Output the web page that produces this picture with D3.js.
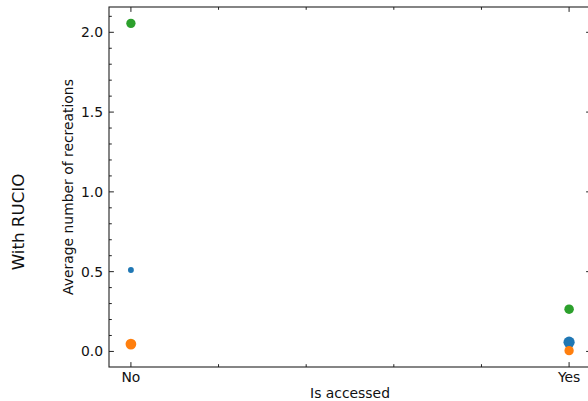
<!DOCTYPE html>
<html>
<head>
<meta charset="utf-8">
<script src="https://cdn.jsdelivr.net/npm/d3@7"></script>
<style>
  html, body { margin: 0; padding: 0; background: #fff; }
  svg { display: block; font-family: "DejaVu Sans", sans-serif; }
</style>
</head>
<body>
<svg id="chart" width="588" height="401"></svg>
<script>
// Access categories on the x axis
const categories = ["No", "Yes"];
// Average number of recreations per series, one value per category
const seriesBlue   = [0.51, 0.058];
const seriesOrange = [0.046, 0.005];
const seriesGreen  = [2.056, 0.265];
// Relative weight of each point (drives marker area)
const weightsBlue   = [18, 65];
const weightsOrange = [60, 45];
const weightsGreen  = [45, 47];
// Axis labels
const yTicks = [0.0, 0.5, 1.0, 1.5, 2.0];
const xLabel = "Is accessed";
const yLabel = "Average number of recreations";
const rowLabel = "With RUCIO";

const series = [
  { values: seriesBlue,   weights: weightsBlue,   color: "#1f77b4" },
  { values: seriesOrange, weights: weightsOrange, color: "#ff7f0e" },
  { values: seriesGreen,  weights: weightsGreen,  color: "#2ca02c" }
];

const svg = d3.select("#chart");
const plot = { left: 109, top: 7, right: 591, bottom: 367 };

// Numeric x positions for categories, padded 5% on each side
const xIdx = categories.map((_, i) => i);
const xPad = 0.05 * (d3.max(xIdx) - d3.min(xIdx));
const x = d3.scaleLinear()
  .domain([d3.min(xIdx) - xPad, d3.max(xIdx) + xPad])
  .range([plot.left, plot.right]);

const allVals = series.flatMap(s => s.values);
const yMin = d3.min(allVals), yMax = d3.max(allVals);
const yPad = 0.05 * (yMax - yMin);
const y = d3.scaleLinear()
  .domain([yMin - yPad, yMax + yPad])
  .range([plot.bottom, plot.top]);

const r = d3.scaleSqrt().domain([0, 100]).range([0, 6.94]);

const clip = svg.append("clipPath").attr("id", "plotclip")
  .append("rect")
  .attr("x", plot.left).attr("y", plot.top)
  .attr("width", plot.right - plot.left).attr("height", plot.bottom - plot.top);

// Points
const pts = svg.append("g").attr("clip-path", "url(#plotclip)");
series.forEach(s => {
  pts.selectAll(null)
    .data(s.values.map((v, i) => ({ v, i, w: s.weights[i] })))
    .join("circle")
    .attr("cx", d => x(d.i))
    .attr("cy", d => y(d.v))
    .attr("r", d => r(d.w))
    .attr("fill", s.color);
});

const tickColor = "#222";
const majorLen = 4.9, minorLen = 2.8;

// Y axis ticks (inward) on left and right
const yMinor = d3.range(0, 2.2, 0.1).map(v => +v.toFixed(2)).filter(v => v >= y.domain()[0] && v <= y.domain()[1]);
const axes = svg.append("g").attr("stroke", tickColor).attr("stroke-width", 1);
yMinor.forEach(v => {
  const isMajor = yTicks.some(t => Math.abs(t - v) < 1e-9);
  const len = isMajor ? majorLen : minorLen;
  axes.append("line").attr("x1", plot.left).attr("x2", plot.left + len)
    .attr("y1", y(v)).attr("y2", y(v));
  axes.append("line").attr("x1", plot.right).attr("x2", plot.right - len)
    .attr("y1", y(v)).attr("y2", y(v));
});

// X axis ticks: majors at categories, minors every 0.2
const xMinor = d3.range(0.2, 1, 0.2);
xIdx.forEach(i => {
  axes.append("line").attr("x1", x(i)).attr("x2", x(i))
    .attr("y1", plot.bottom).attr("y2", plot.bottom - majorLen);
  axes.append("line").attr("x1", x(i)).attr("x2", x(i))
    .attr("y1", plot.top).attr("y2", plot.top + majorLen);
});
xMinor.forEach(v => {
  axes.append("line").attr("x1", x(v)).attr("x2", x(v))
    .attr("y1", plot.bottom).attr("y2", plot.bottom - minorLen);
  axes.append("line").attr("x1", x(v)).attr("x2", x(v))
    .attr("y1", plot.top).attr("y2", plot.top + minorLen);
});

// Frame
svg.append("rect")
  .attr("x", plot.left).attr("y", plot.top)
  .attr("width", plot.right - plot.left).attr("height", plot.bottom - plot.top)
  .attr("fill", "none").attr("stroke", tickColor).attr("stroke-width", 1.1);

// Tick labels
svg.append("g").selectAll("text").data(yTicks).join("text")
  .attr("x", plot.left - 6).attr("y", d => y(d))
  .attr("dy", "0.35em").attr("text-anchor", "end")
  .attr("font-size", 13.9).attr("fill", "#111")
  .text(d => d.toFixed(1));

svg.append("g").selectAll("text").data(categories).join("text")
  .attr("x", (d, i) => x(i)).attr("y", plot.bottom + 15)
  .attr("text-anchor", "middle")
  .attr("font-size", 13.9).attr("fill", "#111")
  .text(d => d);

// Axis titles
svg.append("text")
  .attr("x", (plot.left + plot.right) / 2).attr("y", plot.bottom + 31)
  .attr("text-anchor", "middle").attr("font-size", 13.9).attr("fill", "#111")
  .text(xLabel);

svg.append("text")
  .attr("transform", `translate(73, ${(plot.top + plot.bottom) / 2}) rotate(-90)`)
  .attr("text-anchor", "middle").attr("font-size", 13.9).attr("fill", "#111")
  .text(yLabel);

svg.append("text")
  .attr("transform", `translate(24, 222) rotate(-90)`)
  .attr("text-anchor", "middle").attr("font-size", 16.7).attr("fill", "#111")
  .text(rowLabel);
</script>
</body>
</html>
